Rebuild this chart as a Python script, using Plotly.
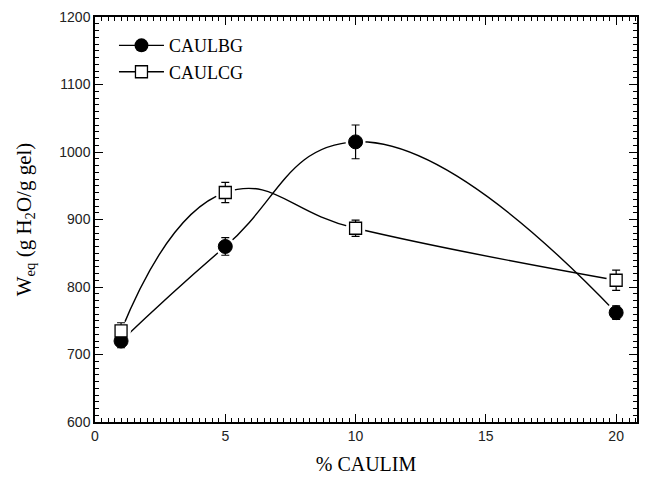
import plotly.graph_objects as go

x_vals = [1, 5, 10, 20]
bg_vals = [720, 860, 1015, 762]
bg_err = [10, 13, 25, 10]
cg_vals = [735, 940, 887, 810]
cg_err = [12, 15, 12, 15]
series_names = ["CAULBG", "CAULCG"]

fig = go.Figure()

black = "#000000"
serif = "Liberation Serif, serif"
sans = "Liberation Sans"

# smooth lines
for vals in (bg_vals, cg_vals):
    fig.add_trace(go.Scatter(x=x_vals, y=vals, mode="lines",
                             line=dict(color=black, width=1.4, shape="spline", smoothing=1.3),
                             showlegend=False, hoverinfo="skip"))
# white halos to create gaps around markers
for vals in (bg_vals, cg_vals):
    fig.add_trace(go.Scatter(x=x_vals, y=vals, mode="markers",
                             marker=dict(color="white", size=20, symbol="circle"),
                             showlegend=False, hoverinfo="skip"))

# markers with error bars
fig.add_trace(go.Scatter(x=x_vals, y=bg_vals, mode="markers", showlegend=False,
                         marker=dict(symbol="circle", size=14, color=black,
                                     line=dict(color=black, width=1)),
                         error_y=dict(type="data", array=bg_err, color=black,
                                      thickness=1.2, width=4)))
fig.add_trace(go.Scatter(x=x_vals, y=cg_vals, mode="markers", showlegend=False,
                         marker=dict(symbol="square", size=12, color="white",
                                     line=dict(color=black, width=1.3)),
                         error_y=dict(type="data", array=cg_err, color=black,
                                      thickness=1.2, width=4)))

# legend entries
fig.add_trace(go.Scatter(x=[None], y=[None], mode="lines+markers", name=series_names[0],
                         line=dict(color=black, width=1.4),
                         marker=dict(symbol="circle", size=14, color=black)))
fig.add_trace(go.Scatter(x=[None], y=[None], mode="lines+markers", name=series_names[1],
                         line=dict(color=black, width=1.4),
                         marker=dict(symbol="square", size=12, color="white",
                                     line=dict(color=black, width=1.3))))

axis_common = dict(showline=True, linecolor=black, linewidth=1.5, mirror="allticks",
                   ticks="inside", ticklen=8, tickwidth=1.2, tickcolor=black,
                   showgrid=False, zeroline=False,
                   tickfont=dict(family=sans, size=14, color="#222222"))

fig.update_xaxes(range=[0, 20.8], tick0=0, dtick=5,
                 minor=dict(ticks="inside", ticklen=4, tickwidth=1, tickcolor=black, dtick=0.25, showgrid=False),
                 title=dict(text="% CAULIM", font=dict(family=serif, size=20, color=black), standoff=14),
                 **axis_common)
fig.update_yaxes(range=[600, 1200], tick0=600, dtick=100,
                 minor=dict(ticks="inside", ticklen=4, tickwidth=1, tickcolor=black, dtick=10, showgrid=False),
                 title=dict(text="W<sub>eq</sub> (g H<sub>2</sub>O/g gel)",
                            font=dict(family=serif, size=21, color=black), standoff=22),
                 **axis_common)

fig.update_layout(width=648, height=481, margin=dict(l=95, r=9, t=13, b=59),
                  plot_bgcolor="white", paper_bgcolor="white",
                  legend=dict(x=0.035, y=0.975, xanchor="left", yanchor="top",
                              bgcolor="rgba(0,0,0,0)", tracegroupgap=0, itemwidth=45,
                              font=dict(family=serif, size=18, color=black)))

fig.write_html("out.html")
